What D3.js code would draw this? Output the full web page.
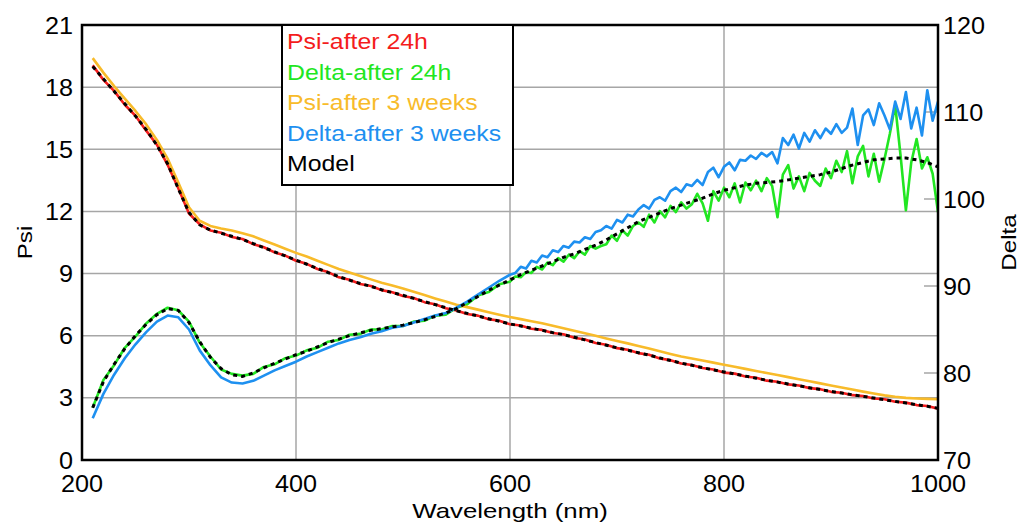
<!DOCTYPE html>
<html lang="en">
<head>
<meta charset="utf-8">
<script src="https://cdn.jsdelivr.net/npm/d3@7"></script>
<style>
  body { margin: 0; background: #fff; }
  svg { font-family: "Liberation Sans", Arial, sans-serif; }
  .grid line { stroke: #a6a6a6; stroke-width: 1.5px; }
  .series { fill: none; stroke-width: 2.6px; stroke-linejoin: round; }
  .model { fill: none; stroke: #000; stroke-width: 3px; stroke-dasharray: 4 4; }
</style>
</head>
<body>
<svg width="1020" height="525"></svg>
<script>
// wavelength grids (nm)
var wlPsi = d3.range(210, 1001, 10);
var wlDelta = d3.range(210, 600, 10).concat(d3.range(600, 1001, 5));

var psiTicks = [0, 3, 6, 9, 12, 15, 18, 21];
var deltaTicks = [70, 80, 90, 100, 110, 120];
var wlTicks = [200, 400, 600, 800, 1000];

// Psi, 10 nm steps
var modelPsi = [19.0, 18.4, 17.8, 17.2, 16.6, 15.95, 15.2, 14.3, 13.1, 11.95,
  11.35, 11.1, 10.95, 10.8, 10.65, 10.45, 10.25, 10.05, 9.85, 9.65,
  9.45, 9.25, 9.05, 8.85, 8.68, 8.52, 8.38, 8.22, 8.08, 7.95,
  7.8, 7.65, 7.5, 7.35, 7.2, 7.08, 6.95, 6.82, 6.7, 6.57,
  6.47, 6.36, 6.26, 6.15, 6.05, 5.93, 5.8, 5.67, 5.54, 5.42,
  5.3, 5.18, 5.06, 4.93, 4.8, 4.68, 4.57, 4.46, 4.35, 4.25,
  4.15, 4.05, 3.95, 3.85, 3.76, 3.67, 3.58, 3.49, 3.4, 3.31,
  3.23, 3.15, 3.07, 2.99, 2.91, 2.83, 2.75, 2.67, 2.59, 2.5];
var psi24 = [19.05, 18.35, 17.82, 17.15, 16.62, 15.9, 15.22, 14.25, 13.12, 11.9,
  11.38, 11.08, 10.97, 10.77, 10.67, 10.42, 10.27, 10.02, 9.87, 9.62,
  9.47, 9.22, 9.07, 8.82, 8.7, 8.5, 8.4, 8.2, 8.1, 7.92,
  7.82, 7.62, 7.52, 7.33, 7.22, 7.05, 6.97, 6.8, 6.72, 6.55,
  6.49, 6.34, 6.28, 6.13, 6.07, 5.9, 5.82, 5.65, 5.56, 5.4,
  5.32, 5.16, 5.08, 4.9, 4.82, 4.66, 4.59, 4.44, 4.37, 4.22,
  4.17, 4.03, 3.97, 3.83, 3.78, 3.65, 3.6, 3.47, 3.42, 3.29,
  3.25, 3.13, 3.09, 2.97, 2.93, 2.81, 2.77, 2.65, 2.61, 2.48];
var psi3w = [19.4, 18.7, 18.05, 17.45, 16.85, 16.2, 15.45, 14.55, 13.4, 12.2,
  11.55, 11.3, 11.18, 11.08, 10.95, 10.8, 10.6, 10.4, 10.2, 10.0,
  9.82, 9.62, 9.42, 9.22, 9.05, 8.88, 8.72, 8.56, 8.42, 8.28,
  8.12, 7.96, 7.8, 7.65, 7.5, 7.38, 7.26, 7.13, 7.01, 6.9,
  6.8, 6.7, 6.6, 6.48, 6.36, 6.24, 6.12, 6.0, 5.87, 5.75,
  5.63, 5.5, 5.38, 5.25, 5.12, 5.0, 4.9, 4.8, 4.7, 4.6,
  4.5, 4.4, 4.3, 4.2, 4.1, 4.0, 3.9, 3.8, 3.7, 3.6,
  3.5, 3.4, 3.3, 3.21, 3.12, 3.05, 3.0, 2.97, 2.95, 2.93];

// Delta model, 10 nm steps
var modelDelta = [76.0, 79.0, 81.0, 82.8, 84.3, 85.6, 86.7, 87.4, 87.2, 85.8,
  83.6, 81.8, 80.5, 79.8, 79.6, 80.0, 80.6, 81.1, 81.6, 82.1,
  82.5, 83.0, 83.5, 83.9, 84.3, 84.6, 84.9, 85.1, 85.3, 85.5,
  85.8, 86.1, 86.5, 86.9, 87.4, 88.1, 88.8, 89.5, 90.1, 90.7,
  91.3, 91.8, 92.3, 92.8, 93.3, 93.7, 94.2, 94.7, 95.3, 96.0,
  96.7, 97.4, 97.9, 98.4, 98.9, 99.3, 99.7, 100.1, 100.6, 101.0,
  101.3, 101.6, 101.8, 101.9, 102.0, 102.2, 102.4, 102.6, 102.8, 103.1,
  103.5, 103.9, 104.2, 104.5, 104.6, 104.7, 104.7, 104.5, 104.2, 103.7];

// Delta data: 10 nm steps to 590, then 5 nm steps
var delta24 = [76.0, 79.2, 80.9, 82.9, 84.2, 85.7, 86.8, 87.5, 87.2, 85.9,
  83.5, 81.9, 80.4, 79.9, 79.7, 79.9, 80.7, 81.0, 81.7, 82.0,
  82.6, 82.9, 83.6, 83.8, 84.4, 84.5, 85.0, 85.0, 85.4, 85.4,
  85.9, 86.0, 86.6, 86.7, 87.5, 87.9, 88.9, 89.3, 90.2,
  90.5, 91.1, 91.0, 91.6, 91.5, 92.2, 91.9, 92.7, 92.4, 93.2,
  92.8, 93.6, 93.2, 94.0, 93.6, 94.6, 94.3, 94.6, 94.8, 95.8,
  95.2, 96.4, 95.8, 96.9, 97.3, 96.8, 98.2, 97.3, 98.6, 97.9,
  99.2, 98.5, 99.6, 98.9, 99.4, 100.6, 99.5, 97.5, 100.9, 99.8,
  101.3, 100.2, 101.8, 99.6, 101.9, 101.0, 102.1, 100.9, 102.4, 101.5,
  97.9, 102.8, 103.9, 101.2, 102.6, 100.9, 103.0, 102.1, 101.5, 103.5,
  102.4, 104.4, 103.1, 105.5, 101.8, 104.9, 106.1, 102.6, 105.2, 102.0,
  104.6, 107.5, 110.8, 105.0, 98.7, 104.2, 106.9, 103.5, 104.8, 102.9,
  98.5];
var delta3w = [74.8, 77.6, 79.8, 81.7, 83.3, 84.7, 85.9, 86.6, 86.4, 85.0,
  82.6, 80.9, 79.5, 78.9, 78.8, 79.1, 79.7, 80.3, 80.8, 81.3,
  81.9, 82.4, 82.9, 83.4, 83.8, 84.1, 84.5, 84.8, 85.2, 85.4,
  85.8, 86.2, 86.6, 86.9, 87.5, 88.2, 89.0, 89.8, 90.6,
  91.3, 91.5, 92.2, 92.0, 92.9, 92.7, 93.5, 93.3, 94.1, 93.9,
  94.6, 94.4, 95.1, 95.0, 95.6, 95.4, 96.2, 96.4, 96.9, 96.6,
  97.6, 97.3, 98.2, 98.0, 98.8, 99.3, 98.9, 99.9, 100.2, 99.8,
  100.9, 101.3, 100.8, 101.7, 101.5, 102.2, 101.6, 103.1, 103.6, 102.5,
  103.7, 104.2, 103.3, 104.5, 104.4, 105.0, 104.6, 105.3, 104.9, 105.4,
  104.1, 107.0, 106.2, 107.4, 105.8, 107.6, 106.6, 107.9, 107.0, 108.1,
  107.5, 108.6, 107.6, 108.2, 110.4, 106.2, 109.6, 110.3, 108.5, 111.0,
  109.6, 108.0, 111.2, 109.2, 112.3, 108.1, 110.5, 107.3, 112.5, 109.0,
  111.2];

var legendItems = [
  { name: "Psi-after 24h", color: "#f41c1c" },
  { name: "Delta-after 24h", color: "#22e622" },
  { name: "Psi-after 3 weeks", color: "#f8bb2a" },
  { name: "Delta-after 3 weeks", color: "#1e90f0" },
  { name: "Model", color: "#000" }
];

var svg = d3.select("svg");
var margin = { top: 25, right: 82, bottom: 65, left: 82 };
var W = 1020, H = 525;

var x = d3.scaleLinear().domain([200, 1000]).range([margin.left, W - margin.right]);
var yPsi = d3.scaleLinear().domain([0, 21]).range([H - margin.bottom, margin.top]);
var yDelta = d3.scaleLinear().domain([70, 120]).range([H - margin.bottom, margin.top]);

// the source text is a little wider than Arial, so stretch it horizontally
function label(g, px, py, str, size, anchor, sx, rot) {
  var t = g.append("g")
      .attr("transform", "translate(" + px + "," + py + ")" + (rot ? " rotate(" + rot + ")" : "") + " scale(" + sx + ",1)")
    .append("text")
      .attr("text-anchor", anchor || "start")
      .style("font-size", size + "px")
      .text(str);
  return t;
}

// grid
var grid = svg.append("g").attr("class", "grid");
grid.selectAll(".gy").data(psiTicks.filter(function (d) { return d > 0 && d < 21; }))
  .enter().append("line")
    .attr("x1", x(200)).attr("x2", x(1000))
    .attr("y1", function (d) { return yPsi(d); }).attr("y2", function (d) { return yPsi(d); });
grid.selectAll(".gx").data(wlTicks.filter(function (d) { return d > 200 && d < 1000; }))
  .enter().append("line")
    .attr("y1", yPsi(0)).attr("y2", yPsi(21))
    .attr("x1", function (d) { return x(d); }).attr("x2", function (d) { return x(d); });

// right axis small inner ticks
svg.append("g").selectAll("line").data(deltaTicks.slice(1, -1)).enter().append("line")
  .attr("x1", x(1000) - 14).attr("x2", x(1000))
  .attr("y1", function (d) { return yDelta(d); }).attr("y2", function (d) { return yDelta(d); })
  .attr("stroke", "#a6a6a6").attr("stroke-width", 1.5);

svg.append("clipPath").attr("id", "clip").append("rect")
  .attr("x", x(200)).attr("y", yPsi(21)).attr("width", x(1000) - x(200)).attr("height", yPsi(0) - yPsi(21));

var plot = svg.append("g").attr("clip-path", "url(#clip)");

function lineOf(xs, ys, yScale) {
  return d3.line()
    .x(function (d, i) { return x(xs[i]); })
    .y(function (d) { return yScale(d); })(ys);
}

plot.append("path").attr("class", "series").attr("stroke", legendItems[0].color).attr("d", lineOf(wlPsi, psi24, yPsi));
plot.append("path").attr("class", "series").attr("stroke", legendItems[1].color).attr("d", lineOf(wlDelta, delta24, yDelta));
plot.append("path").attr("class", "series").attr("stroke", legendItems[2].color).attr("d", lineOf(wlPsi, psi3w, yPsi));
plot.append("path").attr("class", "series").attr("stroke", legendItems[3].color).attr("d", lineOf(wlDelta, delta3w, yDelta));
plot.append("path").attr("class", "model").attr("d", lineOf(wlPsi, modelPsi, yPsi));
plot.append("path").attr("class", "model").attr("d", lineOf(wlPsi, modelDelta, yDelta));

// frame
svg.append("rect")
  .attr("x", x(200)).attr("y", yPsi(21))
  .attr("width", x(1000) - x(200)).attr("height", yPsi(0) - yPsi(21))
  .attr("fill", "none").attr("stroke", "#000").attr("stroke-width", 2.5);

// tick labels
var tl = svg.append("g");
psiTicks.forEach(function (d) {
  label(tl, x(200) - 9, yPsi(d) + 8.5, d, 24, "end", 1.05);
});
deltaTicks.forEach(function (d) {
  label(tl, x(1000) + 5, yDelta(d) + 8.5, d, 24, "start", 1.05);
});
wlTicks.forEach(function (d) {
  label(tl, x(d), 492, d, 24, "middle", 1.05);
});

// axis titles
label(svg, (x(200) + x(1000)) / 2, 518, "Wavelength (nm)", 21, "middle", 1.23);
label(svg, 32, yPsi(10.5), "Psi", 21, "middle", 1.15, -90);
label(svg, 1016, yDelta(95), "Delta", 21, "middle", 1.15, -90);

// legend
var lg = svg.append("g");
lg.append("rect")
  .attr("x", 282).attr("y", yPsi(21)).attr("width", 231).attr("height", 160)
  .attr("fill", "#fff").attr("stroke", "#000").attr("stroke-width", 2);
legendItems.forEach(function (d, i) {
  label(lg, 287, 49 + i * 30.5, d.name, 22, "start", 1.13).attr("fill", d.color);
});
</script>
</body>
</html>
